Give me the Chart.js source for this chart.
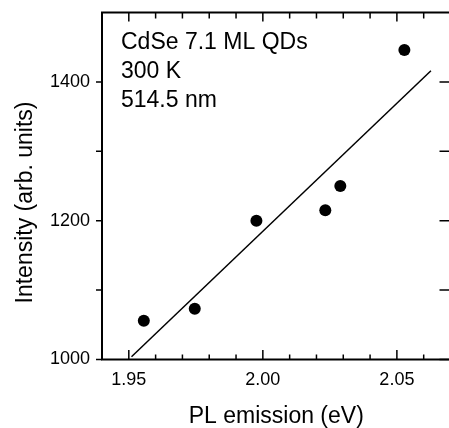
<!DOCTYPE html>
<html>
<head>
<meta charset="utf-8">
<script src="https://cdn.jsdelivr.net/npm/chart.js@4.4.1/dist/chart.umd.min.js"></script>
<style>
  html, body { margin: 0; padding: 0; background: #fff; overflow: hidden; }
  #wrap { position: relative; width: 452px; height: 428px; }
</style>
</head>
<body>
<div id="wrap"><canvas id="chart"></canvas></div>
<script>
// PL peak energy vs integrated intensity
const energy = [1.9556, 1.9746, 1.9976, 2.0233, 2.0289, 2.0528];
const intensity = [1056, 1073, 1200, 1215, 1250, 1446];

// linear fit, two ends
const fitEnergy = [1.951, 2.0627];
const fitIntensity = [1004, 1416];

const xMajorTicks = [1.95, 2.00, 2.05];
const xMinorTicks = [1.96, 1.97, 1.98, 1.99, 2.01, 2.02, 2.03, 2.04, 2.06];
const yMajorTicks = [1000, 1200, 1400];
const yMinorTicks = [1100, 1300];

const infoLines = ['CdSe 7.1 ML QDs', '300 K', '514.5 nm'];

const fontFamily = '"Liberation Sans", Arial, Helvetica, sans-serif';

// no extra room for half labels at the axis ends
function noScalePadding(s) {
  s.paddingTop = 0;
  s.paddingBottom = 0;
  s.paddingLeft = 0;
  s.paddingRight = 0;
}

// box around the plot with inward ticks (outward on the left)
const framePlugin = {
  id: 'frame',
  afterDraw(chart) {
    const c = chart.ctx;
    const a = chart.chartArea;
    const xs = chart.scales.x;
    const ys = chart.scales.y;
    c.save();
    c.strokeStyle = '#000';
    c.lineWidth = 1.5;
    c.beginPath();
    xMajorTicks.concat(xMinorTicks).forEach(v => {
      const px = xs.getPixelForValue(v);
      const major = xMajorTicks.includes(v);
      c.moveTo(px, a.bottom); c.lineTo(px, a.bottom - (major ? 9.5 : 5));
      c.moveTo(px, a.top); c.lineTo(px, a.top + (major ? 9 : 6));
    });
    yMajorTicks.concat(yMinorTicks).forEach(v => {
      const py = ys.getPixelForValue(v);
      c.moveTo(a.left, py); c.lineTo(a.left - 6, py);
      c.moveTo(a.right, py); c.lineTo(a.right - 11, py);
    });
    c.stroke();

    c.lineWidth = 2;
    c.strokeRect(a.left, a.top, a.right - a.left, a.bottom - a.top);

    // sample info
    c.fillStyle = '#000';
    c.font = '23px ' + fontFamily;
    c.textAlign = 'left';
    c.textBaseline = 'alphabetic';
    infoLines.forEach((t, i) => {
      c.fillText(t, a.left + 19, a.top + 36 + i * 29);
    });

    // y axis title, sits a bit below the middle
    c.translate(31.5, 202.5);
    c.rotate(-Math.PI / 2);
    c.textAlign = 'center';
    c.fillText('Intensity (arb. units)', 0, 0);
    c.restore();
  }
};

const ctx = document.getElementById('chart').getContext('2d');
var chart = new Chart(ctx, {
  type: 'scatter',
  data: {
    datasets: [
      {
        label: 'data',
        data: energy.map((e, i) => ({ x: e, y: intensity[i] })),
        backgroundColor: '#000',
        borderWidth: 0,
        pointRadius: 6,
        pointHoverRadius: 6
      },
      {
        label: 'fit',
        data: fitEnergy.map((e, i) => ({ x: e, y: fitIntensity[i] })),
        showLine: true,
        borderColor: '#000',
        borderWidth: 1.5,
        pointRadius: 0
      }
    ]
  },
  options: {
    responsive: true,
    maintainAspectRatio: false,
    animation: false,
    // right edge of the frame runs just past the canvas
    layout: { autoPadding: false, padding: { top: 12.5, right: 1.5, left: 0, bottom: 0 } },
    plugins: {
      legend: { display: false },
      tooltip: { enabled: false }
    },
    scales: {
      x: {
        type: 'linear',
        min: 1.94,
        max: 2.07,
        afterBuildTicks: s => { s.ticks = xMajorTicks.map(v => ({ value: v })); },
        afterFit: s => { s.height = 68.5; noScalePadding(s); },
        grid: { display: false, drawTicks: false },
        border: { display: false },
        ticks: {
          color: '#000',
          font: { family: fontFamily, size: 18 },
          padding: 10,
          maxRotation: 0,
          callback: v => v.toFixed(2)
        },
        title: {
          display: true,
          text: 'PL emission (eV)',
          color: '#000',
          font: { family: fontFamily, size: 23, lineHeight: 1 },
          padding: { top: 0, bottom: 0 }
        }
      },
      y: {
        type: 'linear',
        min: 1000,
        max: 1500,
        afterBuildTicks: s => { s.ticks = yMajorTicks.map(v => ({ value: v })); },
        afterFit: s => { s.width = 102; noScalePadding(s); },
        grid: { display: false, drawTicks: false },
        border: { display: false },
        ticks: {
          color: '#000',
          font: { family: fontFamily, size: 18 },
          padding: 12,
          callback: v => String(v)
        }
      }
    }
  },
  plugins: [framePlugin]
});
</script>
</body>
</html>
